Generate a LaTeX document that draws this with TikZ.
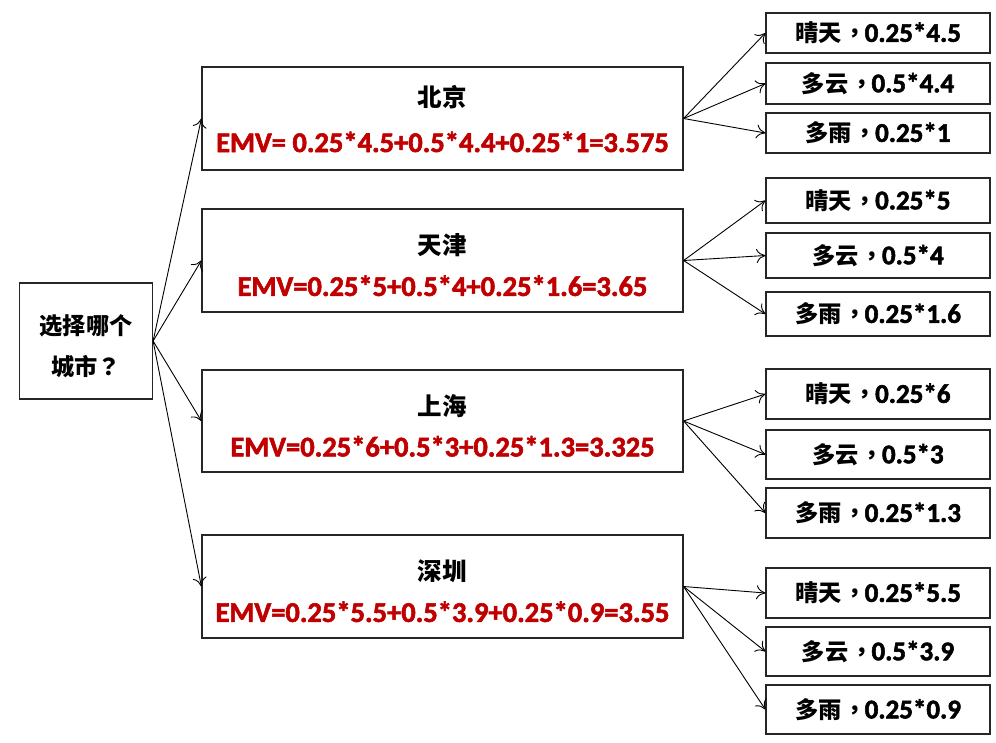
\documentclass[tikz,border=0pt]{standalone}
\usepackage{fontspec}
\setmainfont{Carlito}[FakeBold=2,BoldFeatures={FakeBold=2}]
\newfontfamily\cjk{Noto Sans CJK SC}[Scale=0.86]
\newfontfamily\cjkp{Noto Sans CJK TC}[Scale=0.86]
\usepackage{tikz}
\usetikzlibrary{arrows,arrows.meta,positioning}
\definecolor{emvred}{RGB}{192,0,0}
\newcommand{\lowr}{\rule{0pt}{30pt}}
\newcommand{\cmm}{\kern2pt{\cjkp ，}\kern-2pt}
\tikzstyle{rootbox}=[draw=black!85,line width=1.2pt,minimum width=133pt,minimum height=116pt,inner sep=0pt,align=center,font=\bfseries\fontsize{27}{41}\selectfont]
\tikzstyle{citybox}=[draw=black!85,line width=1.2pt,minimum width=481pt,minimum height=103pt,inner sep=0pt,align=center,font=\bfseries\fontsize{28.5}{41}\selectfont]
\tikzstyle{leafbox}=[draw=black!85,line width=1.2pt,minimum width=224pt,inner sep=0pt,font=\bfseries\fontsize{27}{30}\selectfont]

\begin{document}
\begin{tikzpicture}[x=1pt,y=-1pt,>={To[length=9pt,width=14pt]},line width=0.9pt]
    \useasboundingbox[fill=white] (0,0) rectangle (996,742);
    % root
    \node [rootbox] (root) at (86,341) {\lowr{\cjk 选择哪个}\\{\cjk 城市}{\cjkp ？}};
    % cities
    \node [citybox] (bj) at (442.5,118.5) {{\cjk 北京}\\[5pt]\textcolor{emvred}{EMV= 0.25*4.5+0.5*4.4+0.25*1=3.575}};
    \node [citybox] (tj) at (442.5,260.5) {\lowr{\cjk 天津}\\\textcolor{emvred}{EMV=0.25*5+0.5*4+0.25*1.6=3.65}};
    \node [citybox,minimum height=102pt] (sh) at (442.5,421) {\lowr{\cjk 上海}\\\textcolor{emvred}{EMV=0.25*6+0.5*3+0.25*1.3=3.325}};
    \node [citybox] (sz) at (442.5,586.5) {\lowr{\cjk 深圳}\\\textcolor{emvred}{EMV=0.25*5.5+0.5*3.9+0.25*0.9=3.55}};
    % outcomes
    \node [leafbox,minimum height=40pt] (bj1) at (878,33) {{\cjk 晴天}\cmm 0.25*4.5};
    \node [leafbox,minimum height=41pt] (bj2) at (878,83.5) {{\cjk 多云}\cmm 0.5*4.4};
    \node [leafbox,minimum height=40pt] (bj3) at (878,133) {{\cjk 多雨}\cmm 0.25*1};
    \node [leafbox,minimum height=45pt] (tj1) at (878,200.5) {{\cjk 晴天}\cmm 0.25*5};
    \node [leafbox,minimum height=45pt] (tj2) at (878,255.5) {{\cjk 多云}\cmm 0.5*4};
    \node [leafbox,minimum height=44pt] (tj3) at (878,314) {{\cjk 多雨}\cmm 0.25*1.6};
    \node [leafbox,minimum height=50pt] (sh1) at (878,394) {{\cjk 晴天}\cmm 0.25*6};
    \node [leafbox,minimum height=49pt] (sh2) at (878,454.5) {{\cjk 多云}\cmm 0.5*3};
    \node [leafbox,minimum height=50pt] (sh3) at (878,513) {{\cjk 多雨}\cmm 0.25*1.3};
    \node [leafbox,minimum height=50pt] (sz1) at (878,593) {{\cjk 晴天}\cmm 0.25*5.5};
    \node [leafbox,minimum height=49pt] (sz2) at (878,651.5) {{\cjk 多云}\cmm 0.5*3.9};
    \node [leafbox,minimum height=49pt] (sz3) at (878,709.5) {{\cjk 多雨}\cmm 0.25*0.9};
    % connectors
    \draw [->] (root.east) -- (bj.west);
    \draw [->] (root.east) -- (tj.west);
    \draw [->] (root.east) -- (sh.west);
    \draw [->] (root.east) -- (sz.west);
    \draw [->] (bj.east) -- (bj1.west);
    \draw [->] (bj.east) -- (bj2.west);
    \draw [->] (bj.east) -- (bj3.west);
    \draw [->] (tj.east) -- (tj1.west);
    \draw [->] (tj.east) -- (tj2.west);
    \draw [->] (tj.east) -- (tj3.west);
    \draw [->] (sh.east) -- (sh1.west);
    \draw [->] (sh.east) -- (sh2.west);
    \draw [->] (sh.east) -- (sh3.west);
    \draw [->] (sz.east) -- (sz1.west);
    \draw [->] (sz.east) -- (sz2.west);
    \draw [->] (sz.east) -- (sz3.west);
\end{tikzpicture}
\end{document}
